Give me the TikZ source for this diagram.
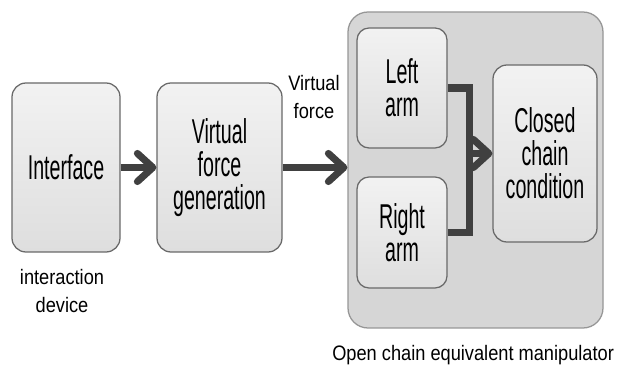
\documentclass[tikz,border=0pt]{standalone}
\usepackage{fontspec}
\setmainfont{Liberation Sans}
\newfontfamily\boxfont{Liberation Sans}[FakeStretch=0.57]
\newfontfamily\notefont{Liberation Sans}[FakeStretch=0.87]
\usetikzlibrary{arrows.meta,positioning}
\definecolor{FlowGray}{RGB}{64,64,64}
\definecolor{BoxTop}{RGB}{242,242,242}
\definecolor{BoxBottom}{RGB}{222,222,222}
\definecolor{BoxEdge}{RGB}{105,105,105}
\definecolor{PanelFill}{RGB}{214,214,214}
\definecolor{PanelEdge}{RGB}{150,150,150}

\begin{document}
\begin{tikzpicture}[
    block/.style={draw=BoxEdge,line width=.9pt,top color=BoxTop,bottom color=BoxBottom,rounded corners=.35cm,align=center,inner sep=0pt,font=\boxfont\fontsize{24.5}{23.5}\selectfont},
    link/.style={line width=5pt,FlowGray},
    flow/.style={link,-{Straight Barb[length=11pt,width=20pt,round]}},
    note/.style={align=center,font=\notefont\fontsize{14.9}{19.9}\selectfont}]
      \useasboundingbox (0,0) rectangle (15.475,9.125);
      \node[draw=PanelEdge,fill=PanelFill,line width=.9pt,rounded corners=.5cm,minimum width=6.375cm,minimum height=7.9cm] (chain) at (11.8875,4.875) {};
      \node[block,minimum width=2.7cm,minimum height=4.225cm] (iface) at (1.65,4.9375) {Interface};
      \node[block,minimum width=3.125cm,minimum height=4.225cm] (vfgen) at (5.4875,4.9375) {Virtual\\force\\generation};
      \node[block,rounded corners=.3cm,minimum width=2.25cm,minimum height=3cm] (larm) at (10.05,6.925) {Left\\arm};
      \node[block,rounded corners=.3cm,minimum width=2.25cm,minimum height=2.775cm] (rarm) at (10.05,3.3125) {Right\\arm};
      \node[block,minimum width=2.6cm,minimum height=4.425cm] (closed) at (13.625,5.2875) {Closed\\chain\\condition};
      \coordinate (join) at ([xshift=-.575cm]closed.west);
      \node[note] (device) at (1.55,1.85) {interaction\\device};
      \node[note] (vflabel) at (7.85,6.7) {Virtual\\force};
      \node[note,below=.3cm of chain,xshift=-.06cm] (manip) {Open chain equivalent manipulator};
      \draw[flow] (iface) -- (vfgen);
      \draw[flow] (vfgen.east) -- (vfgen.east -| chain.west);
      \draw[link] (larm.east) -| (join) |- (rarm.east);
      \draw[flow] (join) -- (closed);
    \end{tikzpicture}
\end{document}
